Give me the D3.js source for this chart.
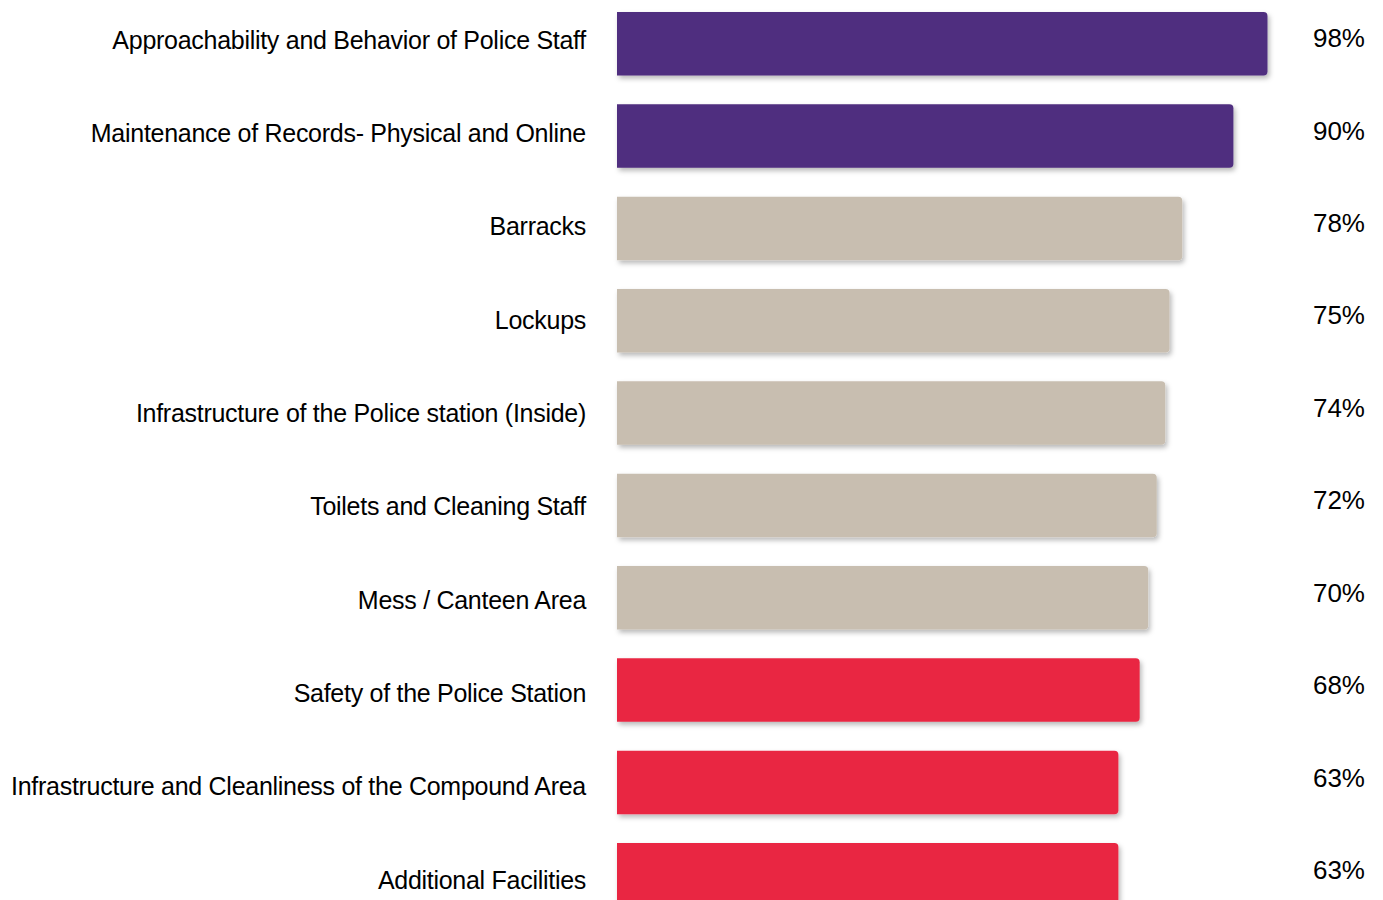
<!DOCTYPE html>
<html>
<head>
<meta charset="utf-8">
<script src="https://cdn.jsdelivr.net/npm/d3@7"></script>
<style>
  html, body { margin: 0; padding: 0; background: #ffffff; }
  svg { display: block; }
  text { font-family: "Liberation Sans", Arial, sans-serif; fill: #000; }
</style>
</head>
<body>
<svg id="chart" width="1383" height="900"></svg>
<script>
// Satisfaction scores by police-station area
const categories = [
  "Approachability and Behavior of Police Staff",
  "Maintenance of Records- Physical and Online",
  "Barracks",
  "Lockups",
  "Infrastructure of the Police station (Inside)",
  "Toilets and Cleaning Staff",
  "Mess / Canteen Area",
  "Safety of the Police Station",
  "Infrastructure and Cleanliness of the Compound Area",
  "Additional Facilities"
];
const scores = [98, 90, 78, 75, 74, 72, 70, 68, 63, 63];
const groups = ["high", "high", "mid", "mid", "mid", "mid", "mid", "low", "low", "low"];
const valueLabels = ["98%", "90%", "78%", "75%", "74%", "72%", "70%", "68%", "63%", "63%"];

const groupColors = { high: "#4F2D7F", mid: "#C8BEB0", low: "#E92843" };

const svg = d3.select("#chart");
const barLeft = 617;

const defs = svg.append("defs");
const shadow = defs.append("filter")
  .attr("id", "barShadow")
  .attr("x", "-5%").attr("y", "-20%")
  .attr("width", "115%").attr("height", "150%");
shadow.append("feDropShadow")
  .attr("dx", 2).attr("dy", 3)
  .attr("stdDeviation", 2.5)
  .attr("flood-color", "#000")
  .attr("flood-opacity", 0.28);

// Bar length scale
const x = d3.scaleLinear().domain([0, 100]).range([233, 659]);

const y = d3.scaleBand()
  .domain(categories)
  .range([12, 906.5])
  .paddingInner(0.312)
  .paddingOuter(0);

const labelY = d3.scalePoint().domain(categories).range([40, 880]);
const valueY = d3.scalePoint().domain(categories).range([38, 870]);

// Bar with square left edge and rounded right corners
function barPath(x0, y0, w, h, r) {
  return `M${x0},${y0}H${x0 + w - r}Q${x0 + w},${y0} ${x0 + w},${y0 + r}` +
         `V${y0 + h - r}Q${x0 + w},${y0 + h} ${x0 + w - r},${y0 + h}H${x0}Z`;
}

const rows = categories.map((c, i) => ({ cat: c, v: scores[i], g: groups[i], lab: valueLabels[i] }));

svg.append("g").selectAll("path")
  .data(rows)
  .join("path")
  .attr("d", d => barPath(barLeft, y(d.cat), x(d.v), y.bandwidth(), 4))
  .attr("fill", d => groupColors[d.g])
  .attr("filter", "url(#barShadow)");

svg.append("g").selectAll("text")
  .data(rows)
  .join("text")
  .attr("x", 586)
  .attr("y", d => labelY(d.cat))
  .attr("dy", "0.35em")
  .attr("text-anchor", "end")
  .style("font-size", "25px")
  .style("letter-spacing", "-0.28px")
  .text(d => d.cat);

svg.append("g").selectAll("text")
  .data(rows)
  .join("text")
  .attr("x", 1365)
  .attr("y", d => valueY(d.cat))
  .attr("dy", "0.35em")
  .attr("text-anchor", "end")
  .style("font-size", "26px")
  .text(d => d.lab);
</script>
</body>
</html>
